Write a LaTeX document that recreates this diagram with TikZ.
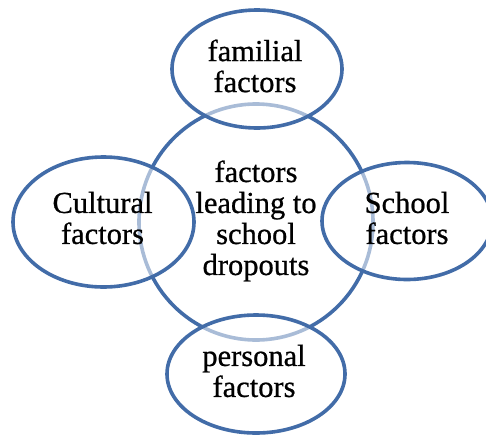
\documentclass[tikz,border=0pt]{standalone}
\usepackage{fontspec}
\setmainfont{Liberation Serif}[FakeBold=0.7]
\usetikzlibrary{shapes.geometric}
\definecolor{ringblue}{RGB}{66,108,168}
\tikzset{
  ring/.style={ellipse, draw=ringblue, line width=3.6pt, inner sep=0pt, align=center},
  outer/.style={ring, fill=white, fill opacity=0.55, text opacity=1},
  label/.style={font=\fontsize{30.5}{31}\selectfont, align=center, inner sep=0pt}
}
\begin{document}
\begin{tikzpicture}[x=1pt,y=-1pt]
\useasboundingbox (0,0) rectangle (486,434);
\node[ring, minimum width=234pt, minimum height=236pt] (hub) at (256,222) {};
\node[label] (hubtext) at (256,221) {factors\\leading to\\school\\dropouts};
\node[outer, minimum width=170pt, minimum height=118pt] (fam) at (257,69) {};
\node[label] (famtext) at (255,66) {familial\\factors};
\node[outer, minimum width=181pt, minimum height=130pt] (cul) at (103.5,222) {};
\node[label] (cultext) at (102.5,218) {Cultural\\factors};
\node[outer, minimum width=170pt, minimum height=117pt] (sch) at (407,221) {};
\node[label] (schtext) at (407,218) {School\\factors};
\node[outer, minimum width=178pt, minimum height=118pt] (per) at (256,374) {};
\node[label] (pertext) at (254,371) {personal\\factors};
\end{tikzpicture}
\end{document}
